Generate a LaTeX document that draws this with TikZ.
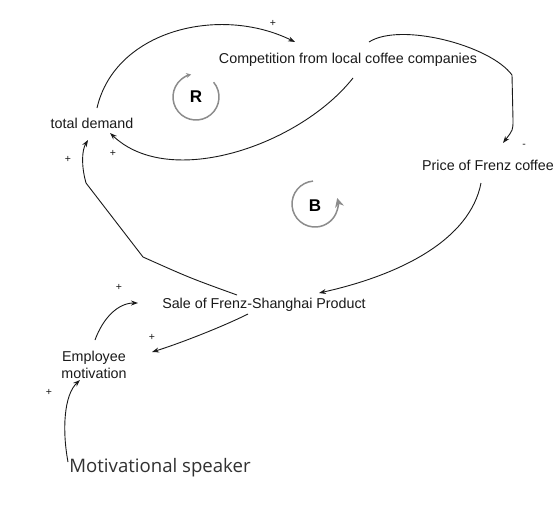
\documentclass[tikz,border=0pt]{standalone}
\usepackage{fontspec}
\setmainfont{Liberation Sans}
\newfontfamily\speakerfont{Open Sans}
\usetikzlibrary{arrows.meta,calc}
\definecolor{ink}{HTML}{1A1A1A}
\definecolor{loopgray}{HTML}{8C8C8C}
\begin{document}
\begin{tikzpicture}[x=1pt,y=-1pt,
  lbl/.style={font=\fontsize{14.3}{17}\selectfont, text=ink, inner sep=0pt, align=center},
  link/.style={draw=ink, line width=0.9pt, -{Stealth[length=7pt,width=5pt]}},
  sign/.style={font=\fontsize{10.5}{10.5}\selectfont, text=ink, inner sep=0pt},
  loopsym/.style={draw=loopgray, line width=1.5pt},
  looptag/.style={font=\bfseries\fontsize{17}{17}\selectfont, text=black, inner sep=0pt}]
\useasboundingbox (0,0) rectangle (556,514);
\fill[white] (0,0) rectangle (556,514);

% variables
\node[lbl] (comp)  at (348,60)  {Competition from local coffee companies};
\node[lbl] (td)    at (92,123)  {total demand};
\node[lbl] (price) at (488,165) {Price of Frenz coffee};
\node[lbl] (sale)  at (264,305) {Sale of Frenz-Shanghai Product};
\node[lbl] (emp)   at (94,365)  {Employee\\motivation};
\node[font=\speakerfont\fontsize{18.6}{21}\selectfont, text=ink!90, inner sep=0pt]
      (spk) at (160,468) {Motivational speaker};

% causal links
\draw[link] ($(td)+(5,-15)$) .. controls (115,30) and (220,5) .. ($(comp)+(-53,-18)$);
\draw[link] ($(comp)+(5,18)$) .. controls (300,145) and (170,190) .. ($(td)+(18,10)$);
\draw[link] ($(comp)+(21,-18)$) .. controls (400,22) and (490,45) .. (512,75)
            -- (513,120) .. controls (513,130) .. ($(price)+(15,-22)$);
\draw[link] ($(price)+(-7,18)$) .. controls (470,240) and (400,275) .. ($(sale)+(55,-12)$);
\draw[link] ($(sale)+(-27,-10)$) .. controls (190,278) .. (143,257) -- (86,183)
            .. controls (81,165) and (82,150) .. ($(td)+(-4,17)$);
\draw[link] ($(sale)+(-16,9)$) .. controls (220,328) and (175,345) .. ($(emp)+(58,-13)$);
\draw[link] ($(emp)+(1,-25)$) .. controls (103,318) and (118,303) .. ($(sale)+(-126,-2)$);
\draw[link] ($(spk)+(-92,-6)$) .. controls (62,430) and (64,395) .. ($(emp)+(-14,15)$);

% polarity signs
\node[sign] (s1) at (273,23)  {+};
\node[sign] (s2) at (113,153) {+};
\node[sign] (s3) at (68,159)  {+};
\node[sign] (s4) at (524,146) {-};
\node[sign] (s5) at (152,337) {+};
\node[sign] (s6) at (119,287) {+};
\node[sign] (s7) at (49,392)  {+};

% loop markers
\coordinate (Rc) at (196,97);
\draw[loopsym, -{Stealth[length=5pt,width=5pt]}]
  ($(Rc)+(40:23pt)$) arc[start angle=40, end angle=-258, radius=23pt];
\node[looptag] (Rtag) at (Rc) {R};

\coordinate (Bc) at (315,204);
\draw[loopsym, -{Stealth[length=9pt,width=9pt]}]
  ($(Bc)+(95:23pt)$) arc[start angle=95, end angle=375, radius=23pt];
\node[looptag] (Btag) at ($(Bc)+(0,2)$) {B};
\end{tikzpicture}
\end{document}
